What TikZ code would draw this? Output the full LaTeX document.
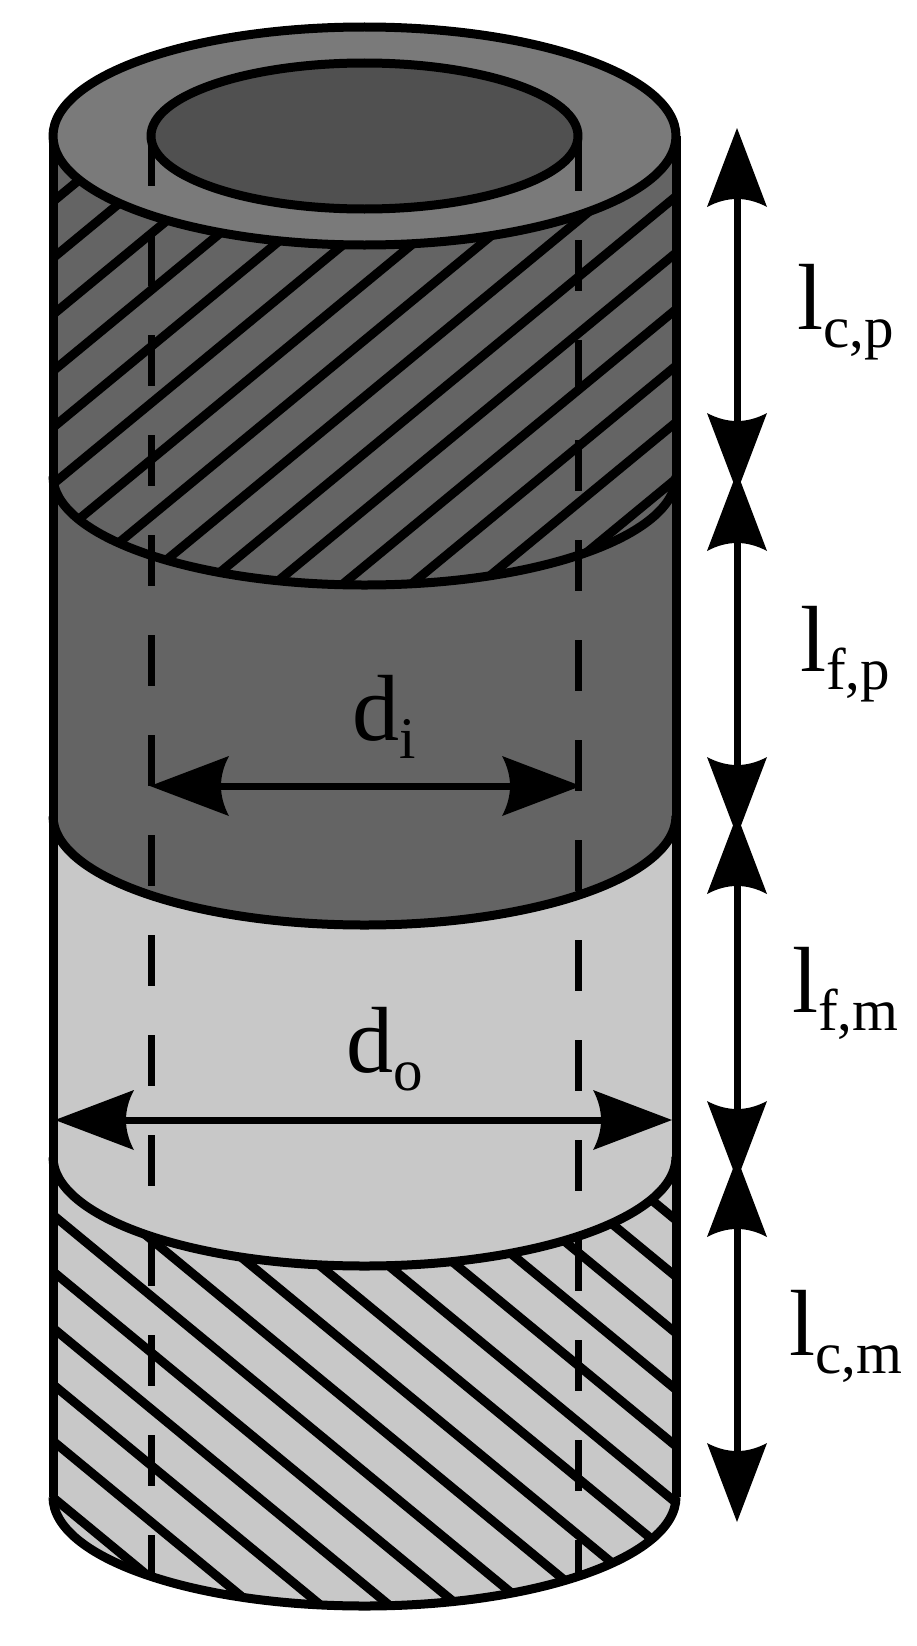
\documentclass[tikz,border=0pt]{standalone}
\usepackage{fontspec}
\usetikzlibrary{arrows.meta}
\setmainfont{Liberation Serif}
\definecolor{capgray}{HTML}{7A7A7A}
\definecolor{boregray}{HTML}{505050}
\definecolor{darkgray}{HTML}{646464}
\definecolor{lightgray}{HTML}{C8C8C8}
\newcommand{\xl}{53}
\newcommand{\xr}{676}
\newcommand{\rx}{311.5}
\newcommand{\ry}{109}
\newcommand{\seg}[2]{(\xl,#1) -- (\xl,#2) arc[start angle=180,end angle=0,x radius=\rx,y radius=\ry] -- (\xr,#1) -- cycle}
\newcommand{\edge}[1]{(\xl,#1) arc[start angle=180,end angle=0,x radius=\rx,y radius=\ry]}
\newcommand{\lab}[2]{#1\raisebox{-0.2em}{\fontsize{59}{59}\selectfont #2}}
\pgfdeclarearrow{
  name=Dimtip,
  setup code={
    \pgfarrowssettipend{79pt}
    \pgfarrowssetlineend{12pt}
    \pgfarrowssetbackend{0pt}
  },
  drawing code={
    \pgfpathmoveto{\pgfpoint{79pt}{0pt}}
    \pgfpathlineto{\pgfpoint{0pt}{30pt}}
    \pgfpathcurveto{\pgfpoint{10.7pt}{10pt}}{\pgfpoint{10.7pt}{-10pt}}{\pgfpoint{0pt}{-30pt}}
    \pgfpathclose
    \pgfusepathqfill
  }
}
\tikzset{
  outline/.style={line width=9pt,line join=round},
  hatchline/.style={line width=9pt},
  hidden/.style={line width=7pt,dash pattern=on 51pt off 49pt},
  dim/.style={line width=7pt,Dimtip-Dimtip},
  tag/.style={anchor=base west,inner sep=0pt,font=\fontsize{94}{94}\selectfont}
}
\begin{document}
\begin{tikzpicture}[x=1pt,y=-1pt]
  \useasboundingbox (0,0) rectangle (916,1646);
  \def\yt{136}
  \def\ya{476}
  \def\yb{816}
  \def\yc{1157}
  \def\yd{1497}

  \fill[lightgray] \seg{\yc}{\yd};
  \begin{scope}
    \clip \seg{\yc}{\yd};
    \foreach \k in {-10,...,5}
      \draw[hatchline] (\xl,{1215+56.5*\k}) -- ++(623,513.6);
  \end{scope}
  \draw[outline] \edge{\yd};

  \fill[lightgray] \seg{\yb}{\yc};
  \draw[outline] \edge{\yc};

  \fill[darkgray] \seg{\ya}{\yb};
  \draw[outline] \edge{\yb};

  \fill[darkgray] \seg{\yt}{\ya};
  \begin{scope}
    \clip \seg{\yt}{\ya};
    \foreach \k in {0,...,15}
      \draw[hatchline] (\xl,{201.5+56.5*\k}) -- ++(623,-513.6);
  \end{scope}
  \draw[outline] \edge{\ya};

  \draw[outline] (\xl,\yt) -- (\xl,\yd);
  \draw[outline] (\xr,\yt) -- (\xr,\yd);
  \draw[outline,fill=capgray] (364.5,\yt) ellipse[x radius=\rx,y radius=\ry];
  \draw[hidden] (151,135) -- (151,1576);
  \draw[hidden] (578,140) -- (578,1576);
  \draw[outline,fill=boregray] (364.5,\yt) ellipse[x radius=213.5,y radius=73];

  \coordinate (v0) at (737,128);
  \coordinate (v1d) at (737,492);
  \coordinate (v1u) at (737,472);
  \coordinate (v2d) at (737,836);
  \coordinate (v2u) at (737,815);
  \coordinate (v3d) at (737,1180);
  \coordinate (v3u) at (737,1158);
  \coordinate (v4) at (737,1522);
  \foreach \a/\b in {v0/v1d,v1u/v2d,v2u/v3d,v3u/v4}
    \draw[dim] (\a) -- (\b);

  \coordinate (dil) at (150,786);
  \coordinate (dir) at (581,786);
  \coordinate (dol) at (55,1120);
  \coordinate (dor) at (672,1120);
  \draw[dim] (dil) -- (dir);
  \draw[dim] (dol) -- (dor);

  \node[tag] (lcp) at (797,329) {\lab{l}{c,p}};
  \node[tag] (lfp) at (800,671) {\lab{l}{f,p}};
  \node[tag] (lfm) at (792,1012) {\lab{l}{f,m}};
  \node[tag] (lcm) at (789,1355) {\lab{l}{c,m}};
  \node[tag] (di) at (352,740) {\lab{d}{i}};
  \node[tag] (do) at (346,1072) {\lab{d}{o}};
\end{tikzpicture}
\end{document}
